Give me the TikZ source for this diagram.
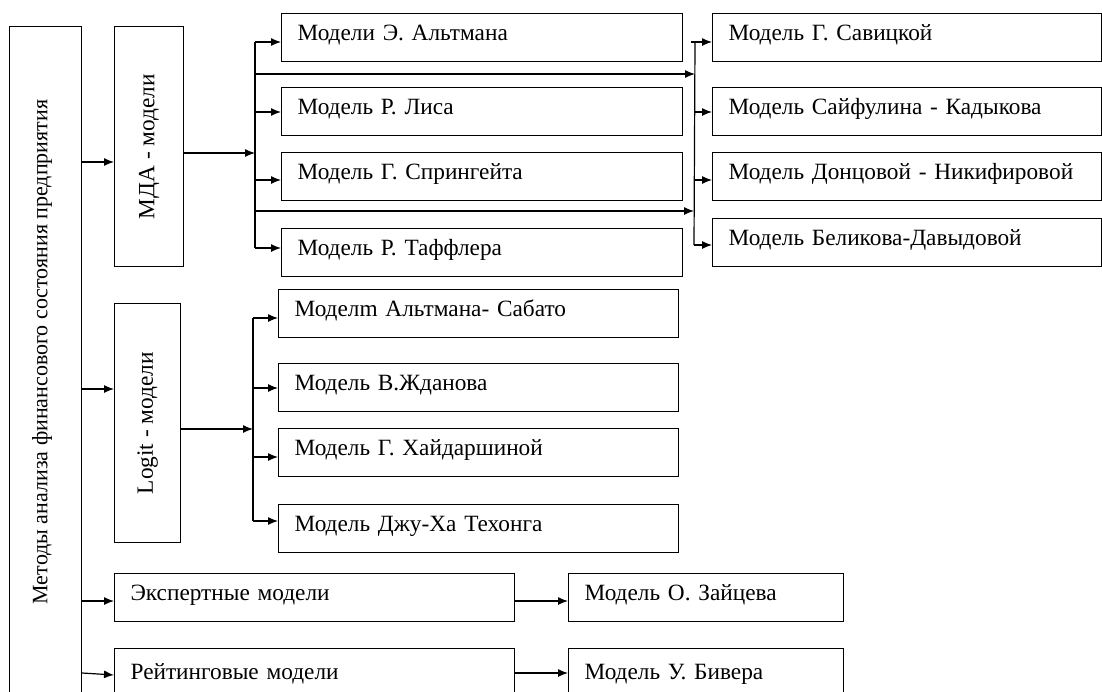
\documentclass[tikz,border=0pt]{standalone}
\usepackage{fontspec}
\setmainfont{Liberation Serif}
\usetikzlibrary{arrows.meta}
\begin{document}
\begin{tikzpicture}[x=1pt,y=-1pt,
  font=\fontsize{23.3}{27}\selectfont,
  ln/.style={line width=1.2pt},
  arr/.style={line width=1.2pt,-{Latex[length=10pt,width=8pt]}},
  tbox/.style={draw,line width=1.2pt,anchor=north west,inner xsep=16pt,inner ysep=0pt,
    text height=15pt,text depth=9pt,minimum height=48pt,align=left,text width=#1-32pt},
  vbox/.style={draw,line width=1.2pt,anchor=north west,inner sep=0pt}]
\useasboundingbox (0,0) rectangle (1102,691);
\clip (0,0) rectangle (1102,691);
% main box
\node[vbox,minimum width=72pt,minimum height=760pt] (big) at (9,26) {};
\node[rotate=90,font=\fontsize{22}{26}\selectfont] (bigtxt) at (42,352) {Методы анализа финансового состояния предприятия};
% MDA
\node[vbox,minimum width=69pt,minimum height=240pt] (mda) at (114,26) {};
\node[rotate=90] (mdatxt) at (mda.center) {МДА - модели};
% Logit
\node[vbox,minimum width=66pt,minimum height=239pt] (logit) at (114,303) {};
\node[rotate=90] (logittxt) at (logit.center) {Logit - модели};
% column 1
\node[tbox=401pt] (m1) at (281,13) {Модели Э. Альтмана};
\node[tbox=401pt] (m2) at (281,87) {Модель Р. Лиса};
\node[tbox=401pt] (m3) at (281,152) {Модель Г. Спрингейта};
\node[tbox=401pt] (m4) at (281,228) {Модель Р. Таффлера};
% column 2
\node[tbox=389pt] (r1) at (712,13) {Модель Г. Савицкой};
\node[tbox=389pt] (r2) at (712,87) {Модель Сайфулина - Кадыкова};
\node[tbox=389pt] (r3) at (712,152) {Модель Донцовой - Никифировой};
\node[tbox=389pt] (r4) at (712,218) {Модель Беликова-Давыдовой};
% logit models
\node[tbox=400pt] (l1) at (278,289) {Моделm Альтмана- Сабато};
\node[tbox=400pt] (l2) at (278,363) {Модель В.Жданова};
\node[tbox=400pt] (l3) at (278,428) {Модель Г. Хайдаршиной};
\node[tbox=400pt] (l4) at (278,504) {Модель Джу-Ха Техонга};
% bottom
\node[tbox=400pt] (expert) at (114,573) {Экспертные модели};
\node[tbox=275pt] (zait) at (568,573) {Модель О. Зайцева};
\node[tbox=400pt,minimum height=90pt,text height=-5pt,text depth=29pt] (rating) at (114,648) {Рейтинговые модели};
\node[tbox=275pt,minimum height=90pt,text height=-5pt,text depth=29pt] (biv) at (568,648) {Модель У. Бивера};
% connectors from main box
\draw[arr] (big.east |- 0,162) -- (mda.west |- 0,162);
\draw[arr] (big.east |- 0,389) -- (logit.west |- 0,389);
\draw[arr] (big.east |- 0,601) -- (expert.west |- 0,601);
\draw[arr] (big.east |- 0,673) -- (rating.west |- 0,675);
% MDA bus
\coordinate (ba) at (255,153);
\draw[arr] (mda.east |- ba) -- (ba);
\draw[ln] (255,42) -- (255,248);
\draw[arr] (255,42) -- (m1.west |- 0,42);
\draw[arr] (255,112) -- (m2.west |- 0,112);
\draw[arr] (255,180) -- (m3.west |- 0,180);
\draw[arr] (255,248) -- (m4.west |- 0,248);
% right bus
\coordinate (bb1) at (695,74);
\coordinate (bb2) at (694,211);
\draw[arr] (255,74) -- (bb1);
\draw[arr] (255,211) -- (bb2);
\draw[ln] (695,42) -- (694,245);
\draw[arr] (691,42) -- (r1.west |- 0,42);
\draw[arr] (695,112) -- (r2.west |- 0,112);
\draw[arr] (694,180) -- (r3.west |- 0,180);
\draw[arr] (694,245) -- (r4.west |- 0,245);
% logit bus
\coordinate (bl) at (253,429);
\draw[arr] (logit.east |- bl) -- (bl);
\draw[ln] (253,318) -- (253,521);
\draw[arr] (253,318) -- (l1.west |- 0,318);
\draw[arr] (253,388) -- (l2.west |- 0,388);
\draw[arr] (253,457) -- (l3.west |- 0,457);
\draw[arr] (253,521) -- (l4.west |- 0,521);
% bottom connectors
\draw[arr] (expert.east |- 0,601) -- (zait.west |- 0,601);
\draw[arr] (rating.east |- 0,673) -- (biv.west |- 0,673);
\end{tikzpicture}
\end{document}
